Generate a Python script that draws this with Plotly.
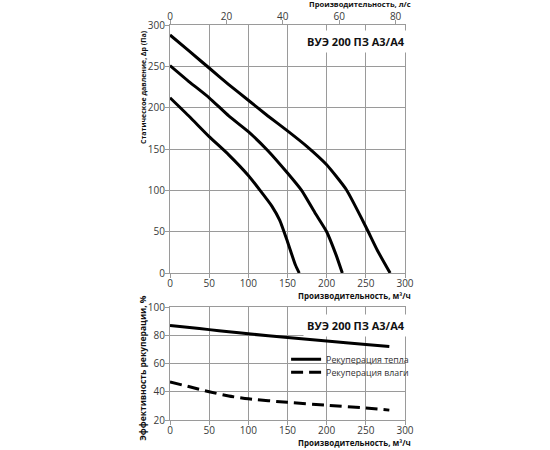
import plotly.graph_objects as go

# ---- data ----
flow_high = [0, 25, 50, 75, 100, 125, 150, 175, 200, 225, 250, 265, 281]
dp_high = [288, 268, 248, 228, 209, 190, 172, 153, 131, 101, 56, 27, 0]

flow_mid = [0, 25, 50, 75, 100, 125, 150, 168, 185, 200, 212, 220]
dp_mid = [251, 231, 212, 190, 171, 148, 121, 100, 73, 50, 22, 0]

flow_low = [0, 25, 50, 75, 100, 115, 130, 140, 150, 160, 165]
dp_low = [212, 189, 165, 143, 118, 100, 81, 64, 38, 10, 0]

flow_rec = [0, 25, 50, 75, 100, 150, 200, 250, 280]
heat_rec = [87, 85.5, 84, 82.5, 81, 78.5, 76, 73.5, 72]
moist_rec = [47, 43.5, 40, 37, 35, 32.5, 30.5, 28.5, 27]

flow_ticks = [0, 50, 100, 150, 200, 250, 300]
ls_ticks = [0, 20, 40, 60, 80]
dp_ticks = [0, 50, 100, 150, 200, 250, 300]
eff_ticks = [20, 40, 60, 80, 100]

M3H_PER_LS = 3.6
model_label = "ВУЭ 200 ПЗ А3/А4"
name_heat = "Рекуперация тепла"
name_moist = "Рекуперация влаги"

# ---- style ----
FONT = "Open Sans"
GRID = "#9a9a9a"
TICKC = "#3a3a3a"

fig = go.Figure()
for fx, fy in [(flow_high, dp_high), (flow_mid, dp_mid), (flow_low, dp_low)]:
    fig.add_trace(go.Scatter(x=fx, y=fy, mode="lines", xaxis="x", yaxis="y",
                             line=dict(color="black", width=3, shape="spline", smoothing=0.5),
                             showlegend=False, hoverinfo="skip"))

# same curve in l/s on the top axis (transparent) so that the l/s axis is drawn
fig.add_trace(go.Scatter(x=[f / M3H_PER_LS for f in flow_high], y=dp_high, mode="lines",
                         xaxis="x2", yaxis="y", line=dict(color="rgba(0,0,0,0)", width=0),
                         showlegend=False, hoverinfo="skip"))

fig.add_trace(go.Scatter(x=flow_rec, y=heat_rec, mode="lines", xaxis="x3", yaxis="y2",
                         name=name_heat, legend="legend",
                         line=dict(color="black", width=3, shape="spline", smoothing=0.6)))
fig.add_trace(go.Scatter(x=flow_rec, y=moist_rec, mode="lines", xaxis="x3", yaxis="y2",
                         name=name_moist, legend="legend2",
                         line=dict(color="black", width=3, dash="12px,6px", shape="spline", smoothing=0.6)))

axis_common = dict(showgrid=True, gridcolor=GRID, gridwidth=1.2, showline=True, linecolor=GRID,
                   linewidth=1.2, ticks="outside", ticklen=4, tickcolor=GRID, zeroline=False,
                   automargin=False,
                   tickfont=dict(family=FONT, size=10, color=TICKC))

fig.update_layout(
    width=550, height=450,
    margin=dict(l=170, r=145, t=25, b=30, autoexpand=False),
    paper_bgcolor="white", plot_bgcolor="white",
    xaxis=dict(axis_common, domain=[0, 1], anchor="y", range=[0, 300],
               tickvals=flow_ticks, mirror=True, ticklabelstandoff=-3),
    xaxis2=dict(axis_common, overlaying="x", side="top", anchor="y", range=[0, 300 / M3H_PER_LS],
                tickvals=ls_ticks, showgrid=False, ticklabelstandoff=-4),
    yaxis=dict(axis_common, domain=[0.372, 1], anchor="x", range=[0, 300],
               tickvals=dp_ticks, mirror=True, ticklabelstandoff=-2),
    xaxis3=dict(axis_common, domain=[0, 1], anchor="y2", range=[0, 300],
                tickvals=flow_ticks, mirror=True, ticklabelstandoff=-3),
    yaxis2=dict(axis_common, domain=[0, 0.286], anchor="x3", range=[20, 100],
                tickvals=eff_ticks, mirror=True, ticklabelstandoff=-2),
    legend=dict(x=0.494, y=0.154, xanchor="left", yanchor="middle", bgcolor="rgba(0,0,0,0)",
                font=dict(family=FONT, size=8.8, color="#333333")),
    legend2=dict(x=0.494, y=0.121, xanchor="left", yanchor="middle", bgcolor="rgba(0,0,0,0)",
                 font=dict(family=FONT, size=8.8, color="#333333")),
    shapes=[dict(type="rect", xref="paper", yref="paper", x0=0.5, x1=0.995,
                 y0=(420 - 379) / 395, y1=(420 - 352) / 395, fillcolor="white",
                 line=dict(width=0), layer="between")],
)

bold = dict(family=FONT, size=8, color="#111111")
ann = [
    dict(text="<b>Производительность, л/с</b>", x=1.03, y=(420 - 4.5) / 395, xanchor="right", yanchor="middle",
         font=dict(family=FONT, size=7.6, color="#111111"), borderpad=0),
    dict(text="<b>Производительность, м³/ч</b>", x=1.034, y=0.314, xanchor="right", yanchor="middle", font=bold),
    dict(text="<b>Производительность, м³/ч</b>", x=1.034, y=-0.056, xanchor="right", yanchor="middle", font=bold),
    dict(text="<b>Статическое давление, ∆p (Па)</b>", x=-0.115, y=0.843, textangle=-90,
         xanchor="center", yanchor="middle", font=dict(family=FONT, size=7, color="#111111")),
    dict(text="<b>Эффективность рекуперации, %</b>", x=-0.115, y=0.132, textangle=-90,
         xanchor="center", yanchor="middle", font=dict(family=FONT, size=8.5, color="#111111")),
    dict(text="<b>" + model_label + "</b>", x=0.79, y=0.957, xanchor="center", yanchor="middle",
         bgcolor="white", borderpad=3, font=dict(family=FONT, size=11, color="#111111")),
    dict(text="<b>" + model_label + "</b>", x=0.79, y=0.24, xanchor="center", yanchor="middle",
         bgcolor="white", borderpad=3, font=dict(family=FONT, size=11, color="#111111")),
]
for a in ann:
    a.update(xref="paper", yref="paper", showarrow=False)
fig.update_layout(annotations=ann)

fig.write_html("out.html", config={"displayModeBar": False},
               post_script="document.body.style.margin='0';")
